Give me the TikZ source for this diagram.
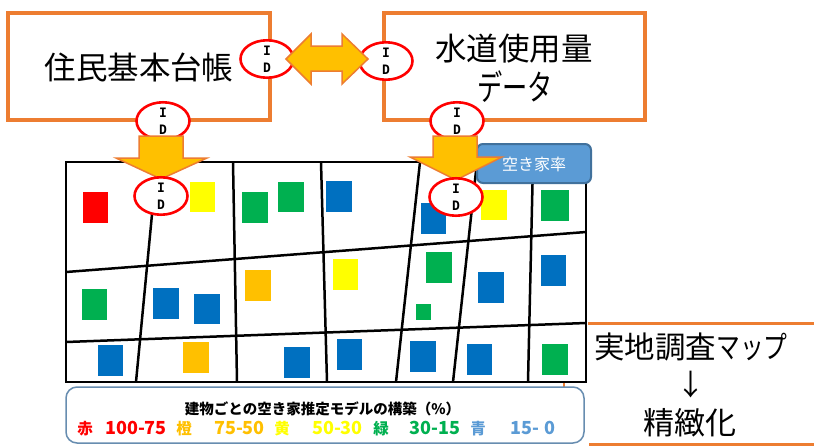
\documentclass[tikz,border=0pt]{standalone}
\usepackage{fontspec}
\setmainfont{Noto Sans CJK JP}
\newfontfamily\idfont{DejaVu Sans Mono}
\definecolor{org}{HTML}{ED7D31}
\definecolor{gold}{HTML}{FFC000}
\definecolor{mred}{HTML}{FF0000}
\definecolor{myel}{HTML}{FFFF00}
\definecolor{mgrn}{HTML}{00B050}
\definecolor{mblu}{HTML}{0070C0}
\definecolor{lblu}{HTML}{5B9BD5}
\definecolor{lbor}{HTML}{41719C}
\tikzset{
 x=1pt,y=-1pt,
 srcbox/.style={draw=org,line width=3.5pt,fill=white},
 idell/.style={draw=mred,line width=2.6pt,fill=white,ellipse,minimum width=53pt,minimum height=33pt,inner sep=0pt,
   font=\idfont\bfseries\fontsize{13}{17}\selectfont,align=center},
 blockarrow/.style={draw=org,line width=1.5pt,fill=gold,line join=miter},
 maplines/.style={draw=black,line width=2.5pt},
 big/.style={font=\fontsize{31.5}{36}\selectfont,inner sep=0pt},
 lg/.style={font=\bfseries\fontsize{15.5}{18}\selectfont,inner sep=0pt,anchor=base},
 lgnum/.style={font=\bfseries\fontsize{18}{20}\selectfont,inner sep=0pt,anchor=base},
}
\newcommand{\sqr}[5]{\fill[#5] (#1,#2) rectangle (#3,#4);}
\newcommand{\nar}[1]{\scalebox{0.78}[1]{#1}}
\usetikzlibrary{shapes.geometric}
\begin{document}
\begin{tikzpicture}
\useasboundingbox (0,0) rectangle (814,445);
\fill[white] (0,0) rectangle (814,445);
% source boxes
\draw[srcbox] (8,13) rectangle (270,120);
\draw[srcbox] (384,13) rectangle (645,120);
\node[big] (juki) at (139,67) {住民基本台帳};
\node[big] (water) at (514,49) {水道使用量};
\node[inner sep=0pt,font=\fontsize{35}{38}\selectfont] (data) at (515,87) {\scalebox{0.72}[1]{データ}};
% right panel
\draw[org,line width=3pt] (588,323) -- (814,323);
\draw[org,line width=3pt] (589,444) -- (814,444);
\draw[org,line width=2pt] (564,380) -- (564,388);
\node[inner sep=0pt,font=\fontsize{30.5}{34}\selectfont] (survey) at (691,347) {実地調査\nar{マップ}};
\node[inner sep=0pt,font=\fontsize{29}{32}\selectfont] (down) at (691,385) {↓};
\node[inner sep=0pt,font=\fontsize{31}{34}\selectfont] (refine) at (690,423) {精緻化};
% map
\draw[maplines,fill=white] (66,162) rectangle (586,382);
\draw[maplines] (157,162) -- (136,382);
\draw[maplines] (233,162) -- (237,382);
\draw[maplines] (321,162) -- (327,382);
\draw[maplines] (420,162) -- (396,382);
\draw[maplines] (477,162) -- (453,382);
\draw[maplines] (533,162) -- (528,382);
\draw[maplines] (66,272) -- (586,232);
\draw[maplines] (66,342) -- (586,323);
\sqr{83}{192}{108}{223}{mred}
\sqr{190}{182}{215}{212}{myel}
\sqr{242}{192}{268}{223}{mgrn}
\sqr{278}{182}{304}{212}{mgrn}
\sqr{326}{181}{352}{212}{mblu}
\sqr{421}{203}{446}{234}{mblu}
\sqr{481}{190}{507}{220}{myel}
\sqr{541}{190}{569}{221}{mgrn}
\sqr{82}{289}{107}{320}{mgrn}
\sqr{153}{288}{179}{319}{mblu}
\sqr{194}{294}{220}{324}{mblu}
\sqr{245}{270}{271}{301}{gold}
\sqr{333}{259}{358}{290}{myel}
\sqr{426}{252}{452}{283}{mgrn}
\sqr{478}{272}{504}{303}{mblu}
\sqr{541}{255}{566}{286}{mblu}
\sqr{416}{304}{431}{320}{mgrn}
\sqr{98}{345}{123}{376}{mblu}
\sqr{183}{342}{209}{373}{gold}
\sqr{284}{347}{310}{378}{mblu}
\sqr{337}{339}{362}{370}{mblu}
\sqr{410}{341}{436}{372}{mblu}
\sqr{467}{344}{492}{375}{mblu}
\sqr{542}{344}{568}{375}{mgrn}
% rate box
\draw[draw=lbor,line width=2pt,fill=lblu,rounded corners=6pt] (477,144) rectangle (591,183);
\node[text=white,inner sep=0pt,font=\fontsize{16}{18}\selectfont] (rate) at (534,164.5) {空き家率};
% ID ellipses
\node[idell] (id1) at (267,59) {I\\D};
\node[idell] (id2) at (386,61) {I\\D};
\node[idell] (id3) at (163,121) {I\\D};
\node[idell] (id4) at (457,121) {I\\D};
% block arrows
\draw[blockarrow] (286,59) -- (311,34) -- (311,46) -- (342,46) -- (342,34) -- (368,59) -- (342,84) -- (342,71) -- (311,71) -- (311,84) -- cycle;
\draw[blockarrow] (139,136) -- (183,136) -- (183,158) -- (207,158) -- (161,179) -- (116,158) -- (139,158) -- cycle;
\draw[blockarrow] (433,136) -- (477,136) -- (477,157) -- (502,157) -- (456,180) -- (410,157) -- (433,157) -- cycle;
\node[idell] (id5) at (161,196) {I\\D};
\node[idell] (id6) at (456,197) {I\\D};
% legend
\draw[draw=lbor!80,line width=1.5pt,fill=white,rounded corners=11pt] (66,387) rectangle (584,443);
\node[inner sep=0pt,font=\bfseries\fontsize{14.5}{17}\selectfont] (ltitle) at (322.5,409) {建物ごとの空き家推定モデルの構築（\%）};
\node[lg,text=mred] (l1) at (85,434) {赤};
\node[lgnum,text=mred] (l2) at (136,434) {100-75};
\node[lg,text=gold] (l3) at (184,434) {橙};
\node[lgnum,text=gold] (l4) at (239.5,434) {75-50};
\node[lg,text=myel] (l5) at (282,434) {黄};
\node[lgnum,text=myel] (l6) at (337.5,434) {50-30};
\node[lg,text=mgrn] (l7) at (381,434) {緑};
\node[lgnum,text=mgrn] (l8) at (435,434) {30-15};
\node[lg,text=lblu] (l9) at (478,434) {青};
\node[lgnum,text=lblu] (l10) at (533,434) {15-\hspace{6pt}0};
\end{tikzpicture}
\end{document}
